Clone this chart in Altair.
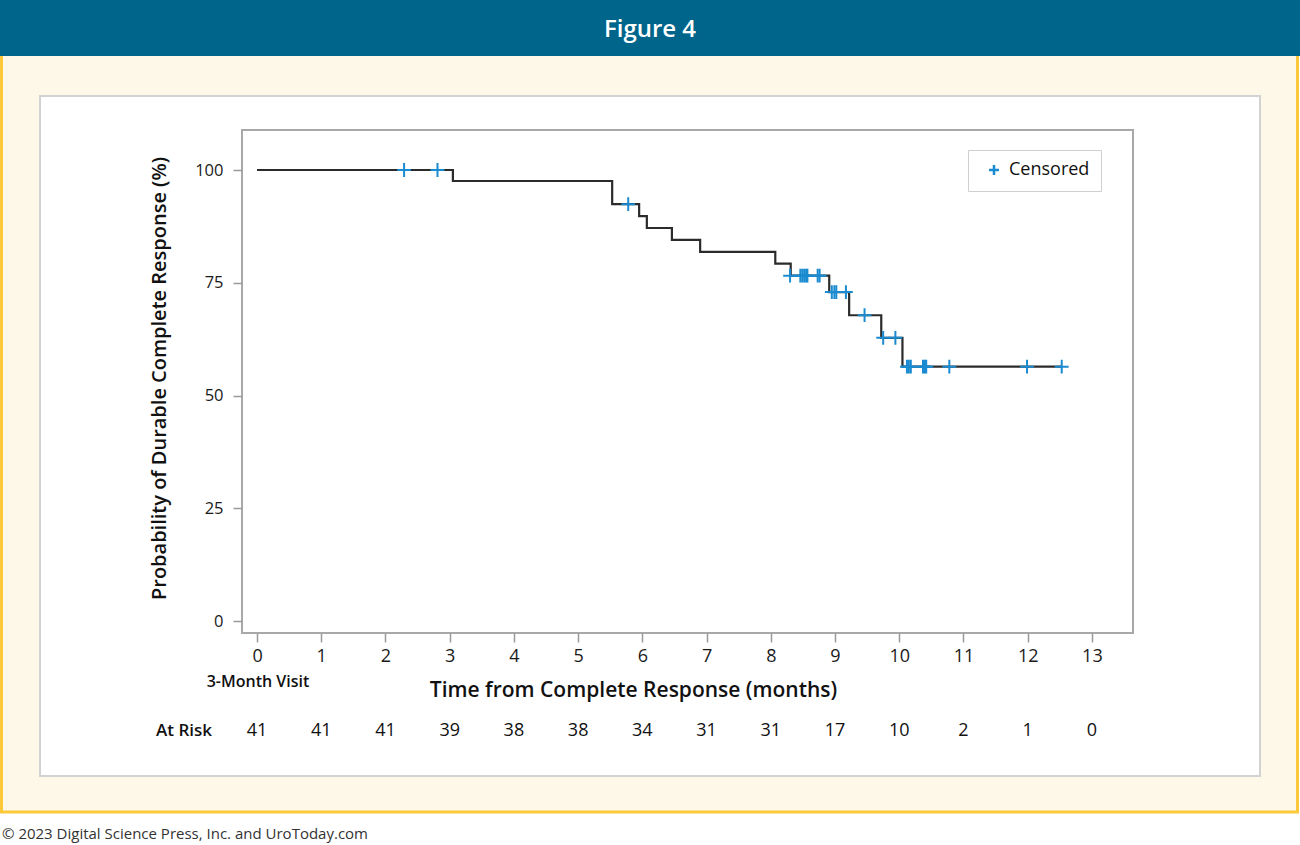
import altair as alt
import pandas as pd

# Kaplan-Meier estimate of durable complete response (step points)
step_time = [0, 3.05, 5.53, 5.95, 6.07, 6.46, 6.90, 8.07, 8.31, 8.91, 9.22, 9.72, 10.05, 12.53]
step_surv = [100, 97.56, 92.42, 89.78, 87.14, 84.50, 81.86, 79.22, 76.58, 72.93, 67.8, 62.8, 56.4, 56.4]

# Censored observations
cens_time = [2.29, 2.81, 5.78,
             8.30, 8.46, 8.49, 8.52, 8.55, 8.57, 8.73, 8.76,
             8.95, 8.99, 9.02, 9.17,
             9.46,
             9.75, 9.94,
             10.12, 10.15, 10.18, 10.37, 10.40, 10.42, 10.78, 11.99, 12.53]
cens_surv = [100, 100, 92.42,
             76.58, 76.58, 76.58, 76.58, 76.58, 76.58, 76.58, 76.58,
             72.93, 72.93, 72.93, 72.93,
             67.8,
             62.8, 62.8,
             56.4, 56.4, 56.4, 56.4, 56.4, 56.4, 56.4, 56.4, 56.4]

# Number at risk below the x axis
risk_time = list(range(14))
risk_n = [41, 41, 41, 39, 38, 38, 34, 31, 31, 17, 10, 2, 1, 0]

x_ticks = list(range(14))
y_ticks = [0, 25, 50, 75, 100]

FONT = "Open Sans"
TEAL = "#00658a"
CREAM = "#fef8e9"
GOLD = "#fcc93a"
BLUE = "#1a8bd0"
PLUS = "M-1,0H1M0,-1V1"

W, H = 891, 503          # plot area
PAD_L, PAD_T = 242, 130  # plot origin on the page

x_scale = alt.Scale(domain=[-0.234, 13.64], nice=False, zero=False)
y_scale = alt.Scale(domain=[-2.66, 108.87], nice=False, zero=False)

one = pd.DataFrame({"k": [0]})


def box(x0, x1, y0, y1, **kw):
    return alt.Chart(one).mark_rect(**kw).encode(
        x=alt.value(x0 - PAD_L), x2=alt.value(x1 - PAD_L),
        y=alt.value(y0 - PAD_T), y2=alt.value(y1 - PAD_T),
    )


def label(txt, x, y, **kw):
    return alt.Chart(pd.DataFrame({"txt": [txt]})).mark_text(**kw).encode(
        text="txt:N", x=alt.value(x - PAD_L), y=alt.value(y - PAD_T)
    )


# page furniture
cream = box(1.5, 1297.5, 40, 812, fill=CREAM, stroke=GOLD, strokeWidth=3)
banner = box(0, 1300, 0, 56, fill=TEAL)
panel = box(40, 1260, 96, 776, fill="white", stroke="#d2d2d2", strokeWidth=2)
frame = box(242, 1133, 130, 633, fill="white", stroke="#a8a8a8", strokeWidth=2)

fig_title = label("Figure 4", 650, 30, font=FONT, fontSize=24, fontWeight=600,
                  color="white", align="center", baseline="middle")
copyright_txt = label("© 2023 Digital Science Press, Inc. and UroToday.com", 2, 834,
                      font=FONT, fontSize=15, color="#333333", align="left",
                      baseline="middle")

axis_common = dict(
    zindex=1, domain=False, grid=False,
    tickColor="#9a9a9a", tickWidth=1.5, tickSize=9,
    labelFont=FONT, labelColor="#1a1a1a",
    titleFont=FONT, titleFontWeight=600, titleColor="#111111",
    titleAlign="center", titleBaseline="middle",
)

km_df = pd.DataFrame({"t": step_time, "s": step_surv})
km_line = alt.Chart(km_df).mark_line(
    interpolate="step-after", color="#2b2b2b", strokeWidth=2.2
).encode(
    x=alt.X("t:Q", scale=x_scale,
            axis=alt.Axis(values=x_ticks, format="d",
                          title="Time from Complete Response (months)",
                          titleX=391, titleY=57, titleFontSize=21,
                          labelPadding=5, labelFontSize=18, **axis_common)),
    y=alt.Y("s:Q", scale=y_scale,
            axis=alt.Axis(values=y_ticks, format="d",
                          title="Probability of Durable Complete Response (%)",
                          titleX=-83, titleY=248, titleFontSize=20,
                          labelPadding=10, labelFontSize=16.5, **axis_common)),
)

cens_df = pd.DataFrame({"t": cens_time, "s": cens_surv,
                        "status": ["Censored"] * len(cens_time)})
cens = alt.Chart(cens_df).mark_point(
    shape=PLUS, size=190, filled=False, strokeWidth=2, opacity=1
).encode(
    x="t:Q",
    y="s:Q",
    color=alt.Color(
        "status:N",
        scale=alt.Scale(range=[BLUE]),
        legend=alt.Legend(
            title=None, orient="none", legendX=726, legendY=20,
            padding=11, symbolOffset=6, symbolType=PLUS, symbolSize=100,
            symbolStrokeWidth=2.5, labelFont=FONT, labelFontSize=18,
            labelColor="#111111", labelOffset=6,
            strokeColor="#cfcfcf", fillColor="white", zindex=2,
        ),
    ),
)

risk_df = pd.DataFrame({"t": risk_time, "n": risk_n})
risk = alt.Chart(risk_df).mark_text(
    font=FONT, fontSize=18, color="#111111", baseline="middle", align="center"
).encode(x="t:Q", y=alt.value(731 - PAD_T), text="n:Q")

at_risk = label("At Risk", 212, 731, font=FONT, fontSize=17, fontWeight=600,
                color="#111111", align="right", baseline="middle")
visit = label("3-Month Visit", 258, 682, font=FONT, fontSize=16, fontWeight=600,
              color="#111111", align="center", baseline="middle")

chart = alt.layer(
    cream, banner, panel, frame, fig_title, copyright_txt,
    km_line, cens, risk, at_risk, visit,
).properties(
    width=W, height=H,
    autosize=alt.AutoSizeParams(type="none"),
    padding={"left": PAD_L, "top": PAD_T, "right": 1300 - PAD_L - W,
             "bottom": 845 - PAD_T - H},
    background="white",
).configure_view(stroke=None)

chart.save("out.html", embed_options={"renderer": "svg", "actions": False})
